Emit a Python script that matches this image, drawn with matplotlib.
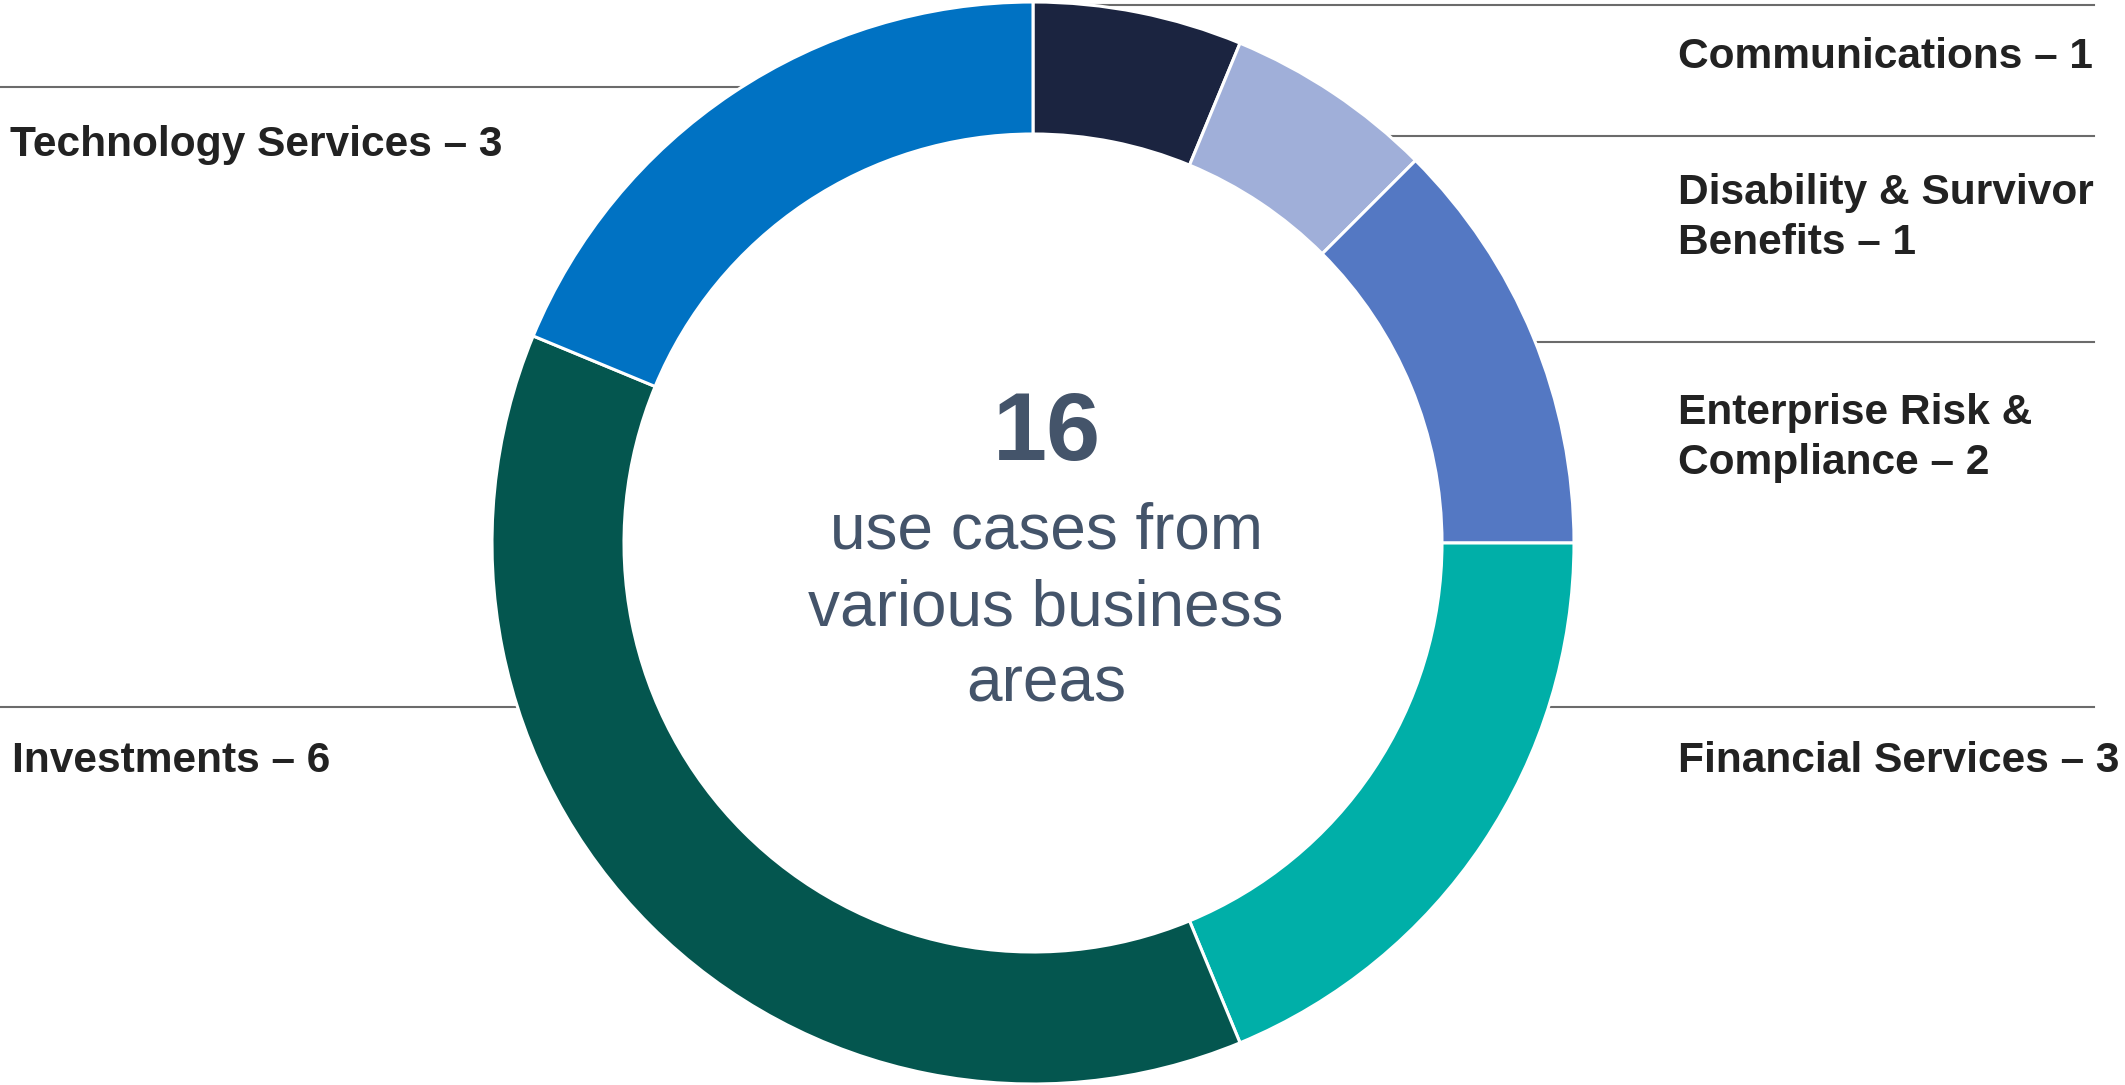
import numpy as np
import matplotlib
matplotlib.use("Agg")
import matplotlib.pyplot as plt

plt.rcParams["font.family"] = ["Liberation Sans", "DejaVu Sans"]

# data
areas = [
    "Communications",
    "Disability & Survivor\nBenefits",
    "Enterprise Risk &\nCompliance",
    "Financial Services",
    "Investments",
    "Technology Services",
]
use_cases = [1, 1, 2, 3, 6, 3]
colors = ["#1b2440", "#a0afd9", "#5478c3", "#00afa8", "#04564f", "#0072c3"]
total_label = "use cases from\nvarious business\nareas"

W, H = 2125, 1085
CX, CY = 1033, H - 543
R_OUT, R_IN = 541, 409

fig = plt.figure(figsize=(W / 100, H / 100), dpi=100)
ax = fig.add_axes([0, 0, 1, 1])

ax.pie(
    use_cases,
    colors=colors,
    radius=R_OUT,
    center=(CX, CY),
    startangle=90,
    counterclock=False,
    wedgeprops=dict(width=R_OUT - R_IN, edgecolor="white", linewidth=2.2),
)
ax.set_xlim(0, W)
ax.set_ylim(0, H)
ax.set_aspect("equal")
ax.axis("off")


def edge_x(y, side):
    dy = abs(y - CY)
    return CX + side * np.sqrt(max(R_OUT**2 - dy**2, 0))


# separator lines (y from top of picture), side: +1 right, -1 left
separators = [(5, 1), (136, 1), (342, 1), (707, 1), (707, -1), (87, -1)]
for y_top, side in separators:
    y = H - y_top
    if side > 0:
        ax.plot([edge_x(y, 1), 2094], [y, y], color="#6b6b6b", lw=1.5, zorder=0)
    else:
        ax.plot([0, edge_x(y, -1)], [y, y], color="#6b6b6b", lw=1.5, zorder=0)

# label anchors: (x left, y centre from top)
label_pos = [(1678, 57), (1678, 218), (1678, 438), (1678, 761), (12, 761), (10, 145)]
for name, n, (x, y_top) in zip(areas, use_cases, label_pos):
    ax.text(x, H - y_top, f"{name} – {n}", ha="left", va="center",
            fontsize=30.6, fontweight="bold", color="#222222", linespacing=1.32)

ax.text(1047, H - 435, str(sum(use_cases)), ha="center", va="center",
        fontsize=70, fontweight="bold", color="#44546a")
ax.text(1046, H - 608, total_label, ha="center", va="center",
        fontsize=46, color="#44546a", linespacing=1.36)

fig.savefig("out.png", dpi=100)
